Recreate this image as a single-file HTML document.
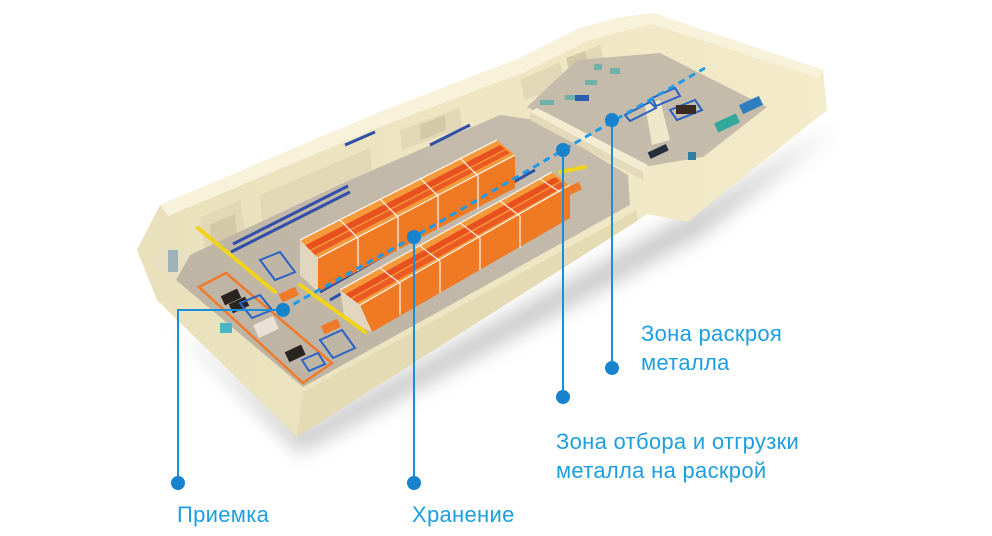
<!DOCTYPE html>
<html><head><meta charset="utf-8"><style>
html,body{margin:0;padding:0;background:#fff;}
body{width:992px;height:536px;overflow:hidden;position:relative;font-family:"Liberation Sans",sans-serif;}
.t{position:absolute;color:#1c9ee0;font-size:22px;line-height:29px;white-space:nowrap;letter-spacing:0.3px;}
svg{overflow:hidden;}
</style></head><body>
<svg width="992" height="536" style="position:absolute;left:0;top:0">
<defs>
<filter id="sh" x="-20%" y="-20%" width="140%" height="160%"><feGaussianBlur stdDeviation="10"/></filter>
<linearGradient id="fr" x1="0" y1="0" x2="1" y2="0"><stop offset="0" stop-color="#e9e0bc"/><stop offset="1" stop-color="#f3ebc9"/></linearGradient>
<linearGradient id="fl" x1="0" y1="1" x2="1" y2="0"><stop offset="0" stop-color="#bdb3a3"/><stop offset="1" stop-color="#c6bcad"/></linearGradient>
</defs>
<!-- shadow -->
<polygon points="170,320 300,452 700,235 835,128 690,215 300,430" fill="#8a8a8a" opacity="0.5" filter="url(#sh)"/>
<!-- silhouette -->
<polygon points="137,250 160,205 380,112 520,58 580,28 617,18 653,13 823,70 827,110 687,222 647,214 637,221 297,437 157,300" fill="url(#fr)"/>
<!-- front wall face slightly darker -->
<polygon points="303,392 637,210 637,221 297,437" fill="#e4dbb5"/>
<!-- back wall tops lighter -->
<polygon points="160,205 380,112 520,58 580,28 617,18 653,13 823,70 818,78 652,24 590,40 525,72 385,125 168,216" fill="#f8f2da"/>
<!-- back wall rooms -->
<g fill="#e2d8b8">
<polygon points="200,218 240,200 245,232 205,250"/>
<polygon points="260,195 370,148 372,175 262,222"/>
<polygon points="400,130 460,108 462,128 402,150"/>
<polygon points="520,80 560,62 565,85 525,100"/>
<polygon points="575,55 600,45 604,60 578,70"/>
</g>
<g fill="#d3c8a8">
<polygon points="210,225 235,214 237,235 212,246"/>
<polygon points="420,125 445,115 446,130 421,140"/>
<polygon points="566,58 585,51 588,63 569,70"/>
</g>
<!-- main floor -->
<polygon points="176,280 303,387 630,205 628,175 537,120 500,115 350,180 190,255" fill="url(#fl)"/>
<!-- left wall inner face -->
<polygon points="150,262 176,280 190,255 165,245" fill="#e8dfc0"/>
<rect x="168" y="250" width="10" height="22" fill="#8fa8b8" opacity="0.8"/>
<!-- annex floor -->
<polygon points="527,107 577,60 660,53 767,107 703,157 643,167" fill="#c4bbab"/>
<!-- separating wall -->
<polygon points="530,112 537,108 648,165 643,172" fill="#f3ecd2"/>
<polygon points="530,112 643,172 643,180 530,120" fill="#e4dab9"/>
<!-- annex inner wall -->
<polygon points="645,105 660,100 670,140 652,145" fill="#efe7c9"/>
<!-- blue shelving rows -->
<g stroke="#2f4fa8" stroke-width="3" fill="none">
<line x1="231" y1="252" x2="350" y2="192"/>
<line x1="233" y1="244" x2="348" y2="186"/>
<line x1="345" y1="145" x2="375" y2="132"/>
<line x1="430" y1="145" x2="470" y2="125"/>
<line x1="320" y1="292" x2="535" y2="170"/>
<line x1="330" y1="300" x2="545" y2="178"/>
</g>
<!-- rack 1 -->
<polygon points="318,258 515,155 515,188 318,292" fill="#f07a24"/>
<polygon points="300,240 497,140 515,155 318,258" fill="#f59a3a"/>
<polygon points="304,246 500,145 505,149 308,251" fill="#e8501f"/>
<polygon points="309,252 506,150 510,153 313,256" fill="#ea5a22"/>
<polygon points="300,240 318,258 318,292 300,275" fill="#e3d6bf"/>
<g stroke="#fff" stroke-width="1.3" opacity="0.85">
<line x1="300" y1="240" x2="497" y2="140"/><line x1="318" y1="258" x2="515" y2="155"/>
<line x1="340" y1="220" x2="358" y2="238"/><line x1="380" y1="199" x2="398" y2="217"/><line x1="420" y1="178" x2="438" y2="196"/><line x1="460" y1="158" x2="478" y2="176"/>
<line x1="358" y1="238" x2="358" y2="271"/><line x1="398" y1="217" x2="398" y2="250"/><line x1="438" y1="196" x2="438" y2="229"/><line x1="478" y1="176" x2="478" y2="209"/>
</g>
<!-- rack 2 -->
<polygon points="360,305 570,185 570,218 372,332" fill="#f07a24"/>
<polygon points="340,290 552,172 570,185 360,305" fill="#f59a3a"/>
<polygon points="344,295 555,177 560,181 349,299" fill="#e8501f"/>
<polygon points="350,300 561,182 565,186 355,304" fill="#ea5a22"/>
<polygon points="340,290 360,305 372,332 345,320" fill="#e3d6bf"/>
<g stroke="#fff" stroke-width="1.3" opacity="0.85">
<line x1="340" y1="290" x2="552" y2="172"/><line x1="360" y1="305" x2="570" y2="185"/>
<line x1="380" y1="268" x2="400" y2="283"/><line x1="420" y1="246" x2="440" y2="261"/><line x1="460" y1="223" x2="480" y2="238"/><line x1="500" y1="201" x2="520" y2="216"/><line x1="540" y1="179" x2="560" y2="192"/>
<line x1="400" y1="283" x2="400" y2="315"/><line x1="440" y1="261" x2="440" y2="293"/><line x1="480" y1="238" x2="480" y2="270"/><line x1="520" y1="216" x2="520" y2="248"/>
</g>
<!-- yellow cranes -->
<g stroke="#f1d21c" stroke-width="4" stroke-linecap="round">
<line x1="198" y1="228" x2="275" y2="292"/>
<line x1="300" y1="285" x2="365" y2="332"/>
<line x1="560" y1="172" x2="585" y2="167"/>
</g>
<!-- receiving area -->
<polygon points="199,287 226,273 332,363 303,383" fill="none" stroke="#ee7a2a" stroke-width="2.5"/>
<rect x="222" y="292" width="18" height="10" fill="#2a2420" transform="rotate(-25 231 297)"/>
<rect x="230" y="300" width="18" height="10" fill="#2a2420" transform="rotate(-25 239 305)"/>
<rect x="286" y="348" width="18" height="11" fill="#2a2420" transform="rotate(-25 295 353)"/>
<rect x="255" y="320" width="22" height="14" fill="#e9e1d4" transform="rotate(-25 266 327)"/>
<rect x="220" y="323" width="12" height="10" fill="#4ab5c8"/>
<g fill="none" stroke="#2a63c6" stroke-width="2">
<polygon points="260,260 280,252 295,272 275,280"/>
<polygon points="320,340 342,330 355,348 333,358"/>
<polygon points="240,303 260,295 272,310 252,318"/>
<polygon points="302,360 318,353 325,364 309,371"/>
</g>
<rect x="280" y="290" width="18" height="9" fill="#ee7a2a" transform="rotate(-25 289 295)"/>
<rect x="322" y="322" width="18" height="9" fill="#ee7a2a" transform="rotate(-25 331 327)"/>
<rect x="565" y="185" width="16" height="8" fill="#ee7a2a" transform="rotate(-25 573 189)"/>
<!-- annex equipment -->
<g>
<rect x="540" y="100" width="14" height="5" fill="#6fb0a8"/>
<rect x="565" y="95" width="12" height="5" fill="#6fb0a8"/>
<rect x="585" y="80" width="12" height="5" fill="#6fb0a8"/>
<rect x="594" y="64" width="8" height="6" fill="#6fb0a8"/>
<rect x="610" y="68" width="10" height="6" fill="#6fb0a8"/>
<rect x="575" y="95" width="14" height="6" fill="#2b5fae"/>
<polygon points="625,115 650,102 656,108 630,121" fill="none" stroke="#2a63c6" stroke-width="2"/>
<polygon points="652,98 675,88 680,96 656,106" fill="none" stroke="#2a63c6" stroke-width="2"/>
<polygon points="670,110 695,100 702,110 677,120" fill="none" stroke="#2a63c6" stroke-width="2"/>
<rect x="676" y="105" width="20" height="9" fill="#3a2a20"/>
<rect x="715" y="118" width="24" height="10" fill="#35a89e" transform="rotate(-25 727 123)"/>
<rect x="740" y="100" width="22" height="10" fill="#2f7fc0" transform="rotate(-25 751 105)"/>
<rect x="648" y="148" width="20" height="7" fill="#26303c" transform="rotate(-25 658 151)"/>
<rect x="688" y="152" width="8" height="8" fill="#2f7fa0"/>
</g>
<!-- connectors -->
<g stroke="#1a8fd8" stroke-width="2" fill="none">
<polyline points="283,310 178,310 178,483"/>
<line x1="414" y1="237" x2="414" y2="483"/>
<line x1="563" y1="150" x2="563" y2="397"/>
<line x1="612" y1="120" x2="612" y2="368"/>
<polyline points="283,310 414,237 563,150 705,68" stroke-dasharray="7,5" stroke-width="3" stroke="#1e9ae6"/>
</g>
<g fill="#1683cc">
<circle cx="283" cy="310" r="7"/><circle cx="414" cy="237" r="7"/><circle cx="563" cy="150" r="7"/><circle cx="612" cy="120" r="7"/>
<circle cx="178" cy="483" r="7"/><circle cx="414" cy="483" r="7"/><circle cx="563" cy="397" r="7"/><circle cx="612" cy="368" r="7"/>
</g>
</svg>
<div class="t" style="left:177px;top:500px">Приемка</div>
<div class="t" style="left:412px;top:500px">Хранение</div>
<div class="t" style="left:641px;top:319px">Зона раскроя<br>металла</div>
<div class="t" style="left:556px;top:427px">Зона отбора и отгрузки<br>металла на раскрой</div>
</body></html>
